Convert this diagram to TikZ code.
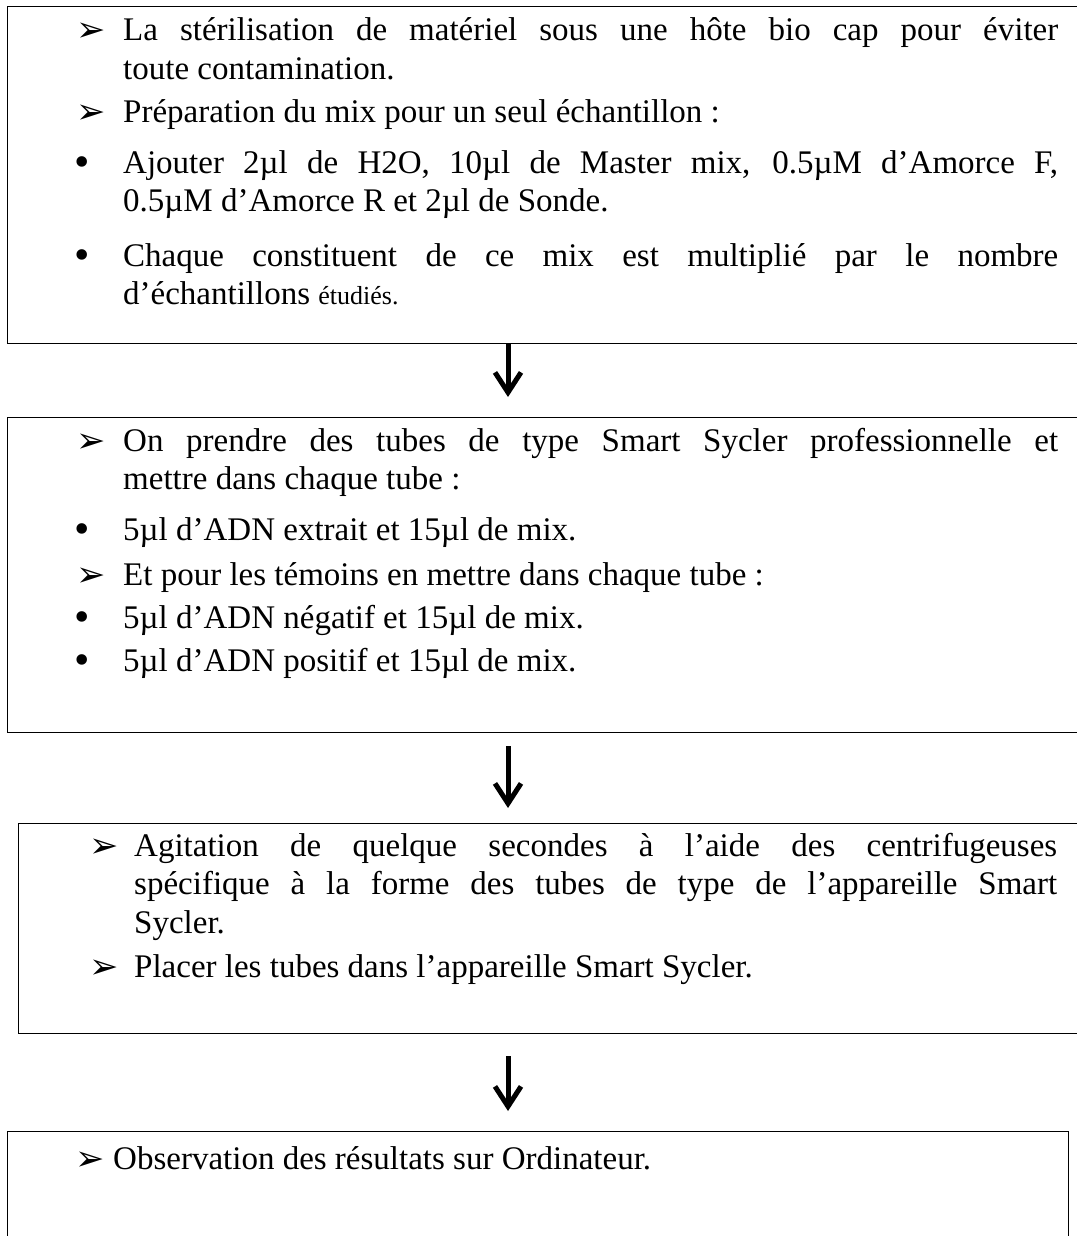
\documentclass[tikz,border=0pt]{standalone}
\usepackage{fontspec}
\setmainfont{Liberation Serif}
\newfontfamily\symfont{DejaVu Sans}
\usetikzlibrary{arrows.meta}

\hyphenpenalty=10000
\exhyphenpenalty=10000
\tolerance=10000
\hbadness=10000

\newcommand{\itemarrow}[1][47pt]{\leavevmode\llap{\makebox[#1][l]{\raisebox{-1pt}{\symfont\fontsize{35}{35}\selectfont ➢}}}\ignorespaces}
\newcommand{\itemdot}{\leavevmode\llap{\makebox[49pt][l]{\raisebox{-3pt}{\fontsize{44}{44}\selectfont •}}}\ignorespaces}

\tikzset{
  box/.style={draw, line width=1pt, anchor=north west, inner sep=0pt},
  para/.style={anchor=base west, inner sep=0pt, text width=#1, align=justify, font=\fontsize{33}{38.5}\selectfont},
  para/.default=935pt,
  flow/.style={line width=5pt, -{Straight Barb[length=20pt,width=26pt]}}
}

\begin{document}
\begin{tikzpicture}[x=1pt,y=1pt,yscale=-1,xscale=1]
\useasboundingbox (0,0) rectangle (1076,1236);

%Shape: Rectangle
\node (box1) [box, minimum width=1075pt, minimum height=337pt] at (7,6) {};
%Shape: Rectangle
\node (box2) [box, minimum width=1075pt, minimum height=315pt] at (7,417) {};
%Shape: Rectangle
\node (box3) [box, minimum width=1064pt, minimum height=210pt] at (18,823) {};
%Shape: Rectangle
\node (box4) [box, minimum width=1061pt, minimum height=120pt] at (7,1131) {};

%Straight Lines
\coordinate (col) at (508,0);
\draw [flow, shorten >=20pt] (box1.south -| col) -- (box2.north -| col);
\draw [flow, shorten <=13pt, shorten >=15pt] (box2.south -| col) -- (box3.north -| col);
\draw [flow, shorten <=22pt, shorten >=20pt] (box3.south -| col) -- (box4.north -| col);

% Text Node
\node (sterile) [para] at (123,41) {\itemarrow La stérilisation de matériel sous une hôte bio cap pour éviter\linebreak toute contamination.};
% Text Node
\node (prep) [para] at (123,123) {\itemarrow Préparation du mix pour un seul échantillon :};
% Text Node
\node (ajout) [para] at (123,173) {\itemdot Ajouter 2µl de H2O, 10µl de Master mix, 0.5µM d’Amorce F,\linebreak 0.5µM d’Amorce R et 2µl de Sonde.};
% Text Node
\node (chaque) [para] at (123,266) {\itemdot Chaque constituent de ce mix est multiplié par le nombre\linebreak d’échantillons {\fontsize{26}{38.5}\selectfont étudiés.}};

% Text Node
\node (tubes) [para] at (123,451) {\itemarrow On prendre des tubes de type Smart Sycler professionnelle et\linebreak mettre dans chaque tube :};
% Text Node
\node (extrait) [para] at (123,540) {\itemdot 5µl d’ADN extrait et 15µl de mix.};
% Text Node
\node (temoin) [para] at (123,585) {\itemarrow Et pour les témoins en mettre dans chaque tube :};
% Text Node
\node (negatif) [para] at (123,628) {\itemdot 5µl d’ADN négatif et 15µl de mix.};
% Text Node
\node (positif) [para] at (123,671) {\itemdot 5µl d’ADN positif et 15µl de mix.};

% Text Node
\node (agit) [para=923pt] at (134,856) {\itemarrow[45pt] Agitation de quelque secondes à l’aide des centrifugeuses\linebreak spécifique à la forme des tubes de type de l’appareille Smart\linebreak Sycler.};
% Text Node
\node (placer) [para=923pt] at (134,977) {\itemarrow[45pt] Placer les tubes dans l’appareille Smart Sycler.};

% Text Node
\node (obs) [para] at (113,1169) {\itemarrow[38pt] Observation des résultats sur Ordinateur.};

\end{tikzpicture}
\end{document}
